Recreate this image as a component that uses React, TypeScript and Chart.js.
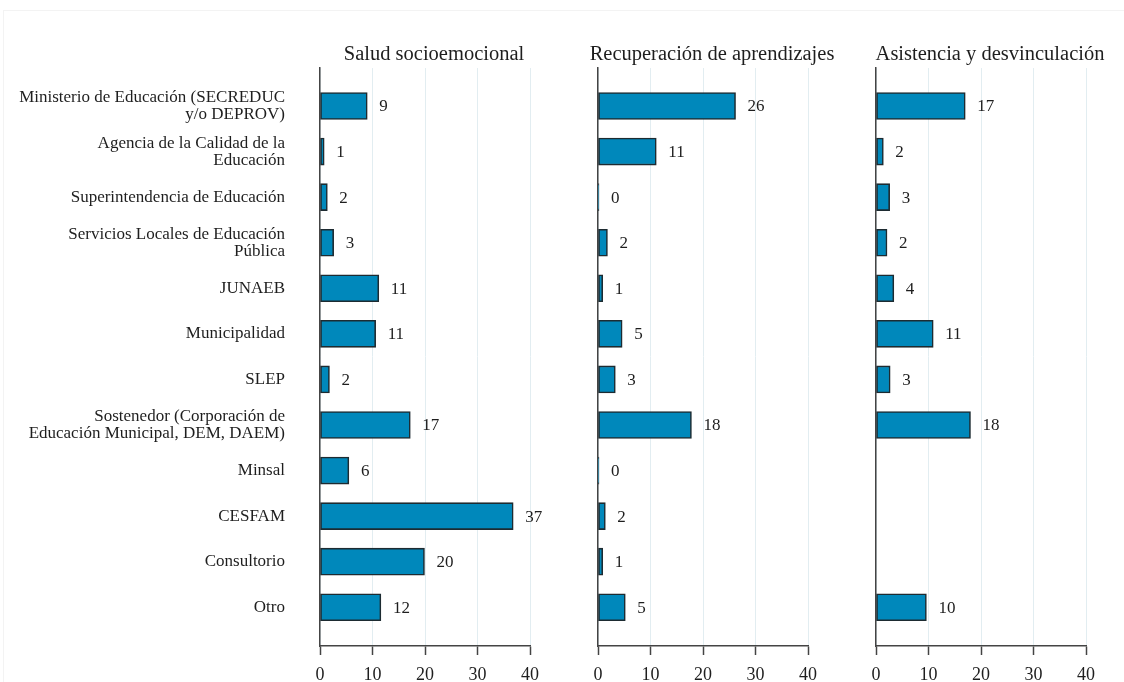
import React, { useEffect, useRef } from 'react';
import { Chart, registerables } from 'chart.js';

Chart.register(...registerables);

const categories: string[][] = [
  ['Ministerio de Educación (SECREDUC', 'y/o DEPROV)'],
  ['Agencia de la Calidad de la', 'Educación'],
  ['Superintendencia de Educación'],
  ['Servicios Locales de Educación', 'Pública'],
  ['JUNAEB'],
  ['Municipalidad'],
  ['SLEP'],
  ['Sostenedor (Corporación de', 'Educación Municipal, DEM, DAEM)'],
  ['Minsal'],
  ['CESFAM'],
  ['Consultorio'],
  ['Otro'],
];

const panelTitles = ['Salud socioemocional', 'Recuperación de aprendizajes', 'Asistencia y desvinculación'];

// bar lengths (as drawn) and the value labels printed beside them
const saludValues: (number | null)[] = [9.0, 0.8, 1.4, 2.6, 11.2, 10.6, 1.8, 17.2, 5.5, 36.8, 19.9, 11.6];
const saludLabels: (number | null)[] = [9, 1, 2, 3, 11, 11, 2, 17, 6, 37, 20, 12];
const recuperacionValues: (number | null)[] = [26.2, 11.1, 0, 1.8, 0.9, 4.6, 3.3, 17.8, 0, 1.4, 0.9, 5.2];
const recuperacionLabels: (number | null)[] = [26, 11, 0, 2, 1, 5, 3, 18, 0, 2, 1, 5];
const asistenciaValues: (number | null)[] = [17.0, 1.4, 2.6, 2.1, 3.4, 10.9, 2.7, 18.0, null, null, null, 9.6];
const asistenciaLabels: (number | null)[] = [17, 2, 3, 2, 4, 11, 3, 18, null, null, null, 10];

const xMin = 0;
const xMax = 40;
const xStep = 10;

const FONT = '"Liberation Serif", "Times New Roman", serif';
const TEXT = '#1e1e1e';

const valueLabels = {
  id: 'valueLabels',
  afterDatasetsDraw(chart: any) {
    const ctx = chart.ctx;
    const meta = chart.getDatasetMeta(0);
    const data = chart.data.datasets[0].data as any[];
    ctx.save();
    ctx.font = `17px ${FONT}`;
    ctx.fillStyle = TEXT;
    ctx.textAlign = 'left';
    ctx.textBaseline = 'middle';
    meta.data.forEach((el: any, i: number) => {
      const d = data[i];
      if (!d || d.label === null || d.label === undefined) return;
      const end = Math.max(el.x, el.base);
      ctx.fillText(String(d.label), end + 12, el.y + 1);
    });
    ctx.restore();
  },
};

const panelTitle = {
  id: 'panelTitle',
  afterDraw(chart: any, _args: any, opts: any) {
    const { ctx, chartArea } = chart;
    ctx.save();
    ctx.font = `20.5px ${FONT}`;
    ctx.fillStyle = TEXT;
    ctx.textAlign = 'center';
    ctx.textBaseline = 'alphabetic';
    ctx.fillText(opts.text, (chartArea.left + chartArea.right) / 2 + opts.offsetX, chartArea.top - 8);
    ctx.restore();
  },
};

interface PanelProps {
  title: string;
  values: (number | null)[];
  labels: (number | null)[];
  showLabels: boolean;
  left: number;
  width: number;
  axisWidth: number;
  padRight: number;
}

function Panel({ title, values, labels, showLabels, left, width, axisWidth, padRight }: PanelProps) {
  const ref = useRef<HTMLCanvasElement | null>(null);
  useEffect(() => {
    if (!ref.current) return;
    const points = values
      .map((v, i) => ({ x: v, y: i, label: labels[i] }))
      .filter((p) => p.x !== null);
    const chart = new Chart(ref.current, {
      type: 'bar',
      data: {
        datasets: [
          {
            data: points as any,
            backgroundColor: '#0088bb',
            borderColor: '#1d2b31',
            borderWidth: 1.6,
            borderSkipped: false,
            barThickness: 27,
            minBarLength: 1,
          },
        ],
      },
      options: {
        indexAxis: 'y',
        responsive: false,
        animation: false,
        devicePixelRatio: 1,
        layout: { padding: { top: 68, right: padRight, bottom: 0, left: 0 } },
        plugins: {
          legend: { display: false },
          tooltip: { enabled: false },
          title: { display: false },
          panelTitle: { text: title, offsetX: 9 },
        } as any,
        scales: {
          x: {
            type: 'linear',
            position: 'bottom',
            min: xMin,
            max: xMax,
            afterFit: (s: any) => {
              s.height = 36;
            },
            ticks: {
              stepSize: xStep,
              color: TEXT,
              font: { family: FONT, size: 18 },
              padding: 9,
            },
            grid: {
              color: '#e2edf1',
              lineWidth: 1,
              tickColor: '#444',
              tickLength: 9,
              tickWidth: 1.5,
            },
            border: { display: true, color: '#444', width: 1.5 },
          },
          y: {
            type: 'linear',
            reverse: true,
            offset: false,
            min: -0.834,
            max: 11.85,
            afterFit: (s: any) => {
              s.width = axisWidth;
              s.paddingTop = 0;
              s.paddingBottom = 0;
            },
            afterBuildTicks: (s: any) => {
              s.ticks = categories.map((_, i) => ({ value: i }));
            },
            ticks: {
              display: showLabels,
              autoSkip: false,
              color: TEXT,
              padding: 35,
              font: { family: FONT, size: 17, lineHeight: 1.0 },
              callback: (v: any) => categories[Number(v)] ?? '',
            },
            grid: { display: false, drawTicks: false, offset: false },
            border: { display: true, color: '#444', width: 1.5 },
          },
        },
      },
      plugins: [valueLabels, panelTitle],
    });
    return () => chart.destroy();
  }, [title, values, labels, showLabels, axisWidth, padRight]);

  return (
    <canvas
      ref={ref}
      width={width}
      height={682}
      style={{ position: 'absolute', left, top: 0, width, height: 682 }}
    />
  );
}

export default function App() {
  return (
    <div style={{ position: 'absolute', left: 0, top: 0, width: 1124, height: 682, background: '#fff', overflow: 'hidden' }}>
      <div
        style={{
          position: 'absolute',
          left: 3,
          top: 10,
          right: 0,
          bottom: 0,
          borderLeft: '1px solid #f3f3f3',
          borderTop: '1px solid #f3f3f3',
        }}
      />
      <Panel title={panelTitles[0]} values={saludValues} labels={saludLabels} showLabels={true} left={0} width={560} axisWidth={320} padRight={30} />
      <Panel title={panelTitles[1]} values={recuperacionValues} labels={recuperacionLabels} showLabels={false} left={560} width={280} axisWidth={38} padRight={32} />
      <Panel title={panelTitles[2]} values={asistenciaValues} labels={asistenciaLabels} showLabels={false} left={840} width={284} axisWidth={36} padRight={38} />
    </div>
  );
}
